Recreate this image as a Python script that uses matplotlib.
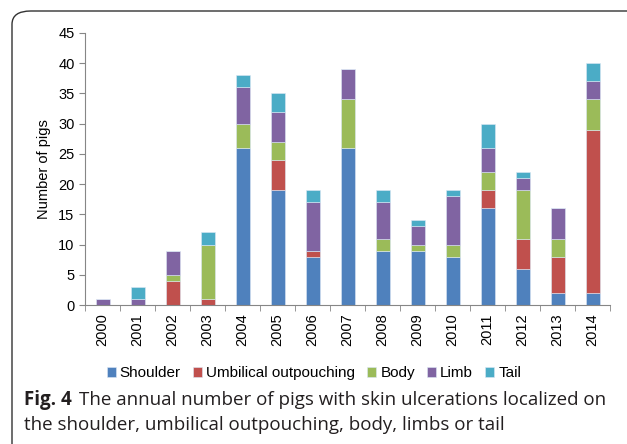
import numpy as np
import matplotlib.pyplot as plt
from matplotlib.patches import FancyBboxPatch

years = [str(y) for y in range(2000, 2015)]
shoulder = [0, 0, 0, 0, 26, 19, 8, 26, 9, 9, 8, 16, 6, 2, 2]
umbilical = [0, 0, 4, 1, 0, 5, 1, 0, 0, 0, 0, 3, 5, 6, 27]
body = [0, 0, 1, 9, 4, 3, 0, 8, 2, 1, 2, 3, 8, 3, 5]
limb = [1, 1, 4, 0, 6, 5, 8, 5, 6, 3, 8, 4, 2, 5, 3]
tail = [0, 2, 0, 2, 2, 3, 2, 0, 2, 1, 1, 4, 1, 0, 3]

series = [("Shoulder", shoulder, "#4F81BD"),
          ("Umbilical outpouching", umbilical, "#C0504D"),
          ("Body", body, "#9BBB59"),
          ("Limb", limb, "#8064A2"),
          ("Tail", tail, "#4BACC6")]

plt.rcParams['font.family'] = ['Liberation Sans', 'DejaVu Sans']
fig = plt.figure(figsize=(6.27, 4.44), dpi=100)
ax = fig.add_axes([0.1356, 0.313, 0.8374, 0.6127])

x = np.arange(len(years))
bottom = np.zeros(len(years))
for name, vals, col in series:
    ax.bar(x, vals, 0.4, bottom=bottom, color=col, label=name,
           edgecolor='#dce8f5', linewidth=0.4)
    bottom += np.array(vals)

grey = '#868686'
fs = 10.5
ax.set_xlim(-0.5, len(years) - 0.5)
ax.set_ylim(0, 45)
ax.set_yticks(range(0, 46, 5))
ax.set_xticks(x)
ax.set_xticklabels(years, rotation=90, fontsize=fs)
ax.tick_params(axis='x', length=0, pad=6)
ax.set_xticks(np.arange(-0.5, len(years)), minor=True)
ax.tick_params(axis='x', which='minor', length=4, color=grey, direction='out')
ax.tick_params(axis='y', labelsize=fs, length=4, color=grey)
for s in ['top', 'right']:
    ax.spines[s].set_visible(False)
for s in ['left', 'bottom']:
    ax.spines[s].set_color(grey)
ax.set_ylabel("Number of pigs", fontsize=fs, labelpad=5)

ax.legend(loc='center', bbox_to_anchor=(0.436, -0.25), ncol=5,
          frameon=False, fontsize=11, handlelength=0.6, handleheight=0.6,
          handletextpad=0.25, columnspacing=0.8)

cap = ['Open Sans', 'DejaVu Sans']
t1 = fig.text(0.038, 0.100, "Fig. 4", fontsize=13.5, family=cap,
              fontweight='bold', va='center', color='#231f20')
fig.canvas.draw()
bb = t1.get_window_extent()
fig.text((bb.x1 + 7) / 627, 0.100,
         "The annual number of pigs with skin ulcerations localized on",
         fontsize=13.5, family=cap, va='center', color='#231f20')
fig.text(0.038, 0.042, "the shoulder, umbilical outpouching, body, limbs or tail",
         fontsize=13.5, family=cap, va='center', color='#231f20')

box = FancyBboxPatch((12 / 627, -0.2), 1.2, 1.2 - 11 / 444,
                     boxstyle="round,pad=0,rounding_size=0.03",
                     transform=fig.transFigure, fill=False,
                     edgecolor='#333333', linewidth=1.0, clip_on=False)
fig.patches.append(box)

fig.savefig("out.png", dpi=100)
